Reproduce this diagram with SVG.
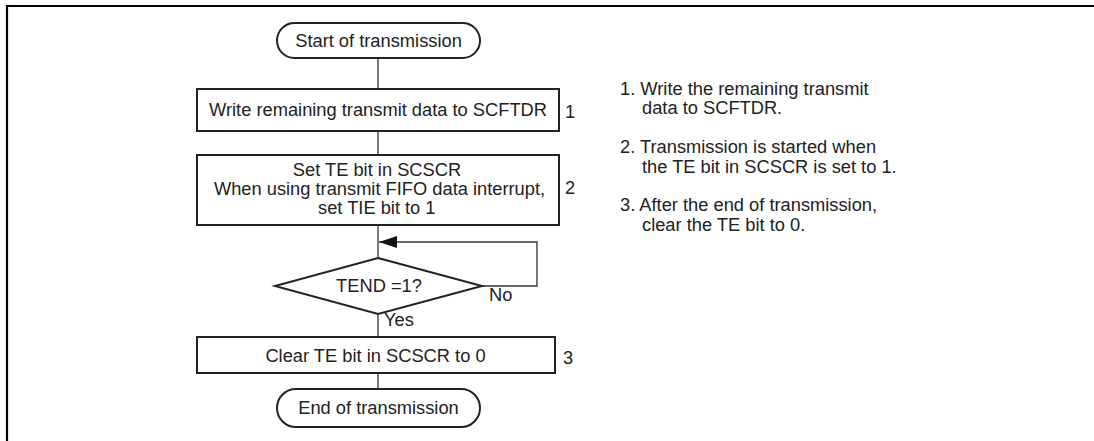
<svg xmlns="http://www.w3.org/2000/svg" width="1094" height="441" viewBox="0 0 1094 441">
<defs>
<style>
text{font-family:"Liberation Sans",Arial,sans-serif;font-size:18.3px;fill:#222}
.c{text-anchor:middle}
.box{fill:#fff;stroke:#222;stroke-width:2}
.ln{fill:none;stroke:#333;stroke-width:1.3}
</style>
<marker id="ah" viewBox="0 0 18 12" refX="18" refY="6" markerWidth="18" markerHeight="12" markerUnits="userSpaceOnUse" orient="auto">
<path d="M0,0 L18,6 L0,12 Z" fill="#111"/>
</marker>
</defs>
<rect width="1094" height="441" fill="#fff"/>
<g id="frame">
<path d="M7,441 V6 H1094" fill="none" stroke="#000" stroke-width="2.2"/>
</g>
<g id="connectors">
<line class="ln" x1="378" y1="58" x2="378" y2="89"/>
<line class="ln" x1="378" y1="131" x2="378" y2="155"/>
<line class="ln" x1="378" y1="225" x2="378" y2="258"/>
<line class="ln" x1="378" y1="314" x2="378" y2="337"/>
<line class="ln" x1="378" y1="373" x2="378" y2="389"/>
<path class="ln" d="M482,286 H537 V242 H379" marker-end="url(#ah)"/>
<text x="489" y="301">No</text>
<text x="384" y="326">Yes</text>
</g>
<g id="start">
<rect class="box" x="277" y="23" width="203" height="35" rx="17.5"/>
<text class="c" x="378.5" y="47">Start of transmission</text>
</g>
<g id="step1">
<rect class="box" x="197" y="89" width="362" height="42"/>
<text class="c" x="378" y="116">Write remaining transmit data to SCFTDR</text>
<text x="565" y="118">1</text>
</g>
<g id="step2">
<rect class="box" x="197" y="155" width="362" height="70"/>
<text class="c" x="377" y="176">Set TE bit in SCSCR</text>
<text class="c" x="379.5" y="195">When using transmit FIFO data interrupt,</text>
<text x="318" y="214">set TIE bit to 1</text>
<text x="565" y="194">2</text>
</g>
<g id="decision">
<polygon class="box" points="378,258 482,286 378,314 275,286"/>
<text class="c" x="379" y="292">TEND =1?</text>
</g>
<g id="step3">
<rect class="box" x="197" y="337" width="358" height="36"/>
<text class="c" x="375.5" y="362">Clear TE bit in SCSCR to 0</text>
<text x="563" y="364">3</text>
</g>
<g id="end">
<rect class="box" x="277" y="389" width="203" height="38" rx="19"/>
<text class="c" x="378.5" y="414">End of transmission</text>
</g>
<g id="notes">
<text x="620" y="95">1. Write the remaining transmit</text>
<text x="642" y="114">data to SCFTDR.</text>
<text x="620" y="153">2. Transmission is started when</text>
<text x="642" y="173">the TE bit in SCSCR is set to 1.</text>
<text x="620" y="211">3. After the end of transmission,</text>
<text x="642" y="231">clear the TE bit to 0.</text>
</g>
</svg>
